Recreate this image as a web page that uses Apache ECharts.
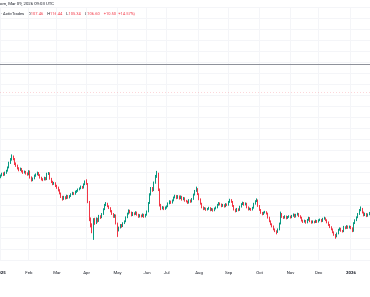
<!DOCTYPE html>
<html><head><meta charset="utf-8">
<script src="https://cdn.jsdelivr.net/npm/echarts@6/dist/echarts.min.js"></script>
<style>html,body{margin:0;padding:0;background:#fff}#c{width:370px;height:297px}</style>
</head><body><div id="c"></div>
<script>
// Daily candles, [open, close, low, high] (first bar ~Jan 2 2025)
const ohlc = [
[73.6,74.0,73.3,74.3],[74.0,74.5,73.8,74.8],[74.5,74.2,73.9,74.9],[74.2,74.8,74.0,75.1],[74.8,75.3,74.5,75.6],
[75.3,76.2,75.1,76.5],[76.2,77.5,76.0,77.8],[77.5,78.4,77.2,78.8],[78.4,79.2,78.1,79.8],[79.2,78.6,78.2,79.5],
[78.6,77.2,76.9,78.8],[77.2,76.8,76.4,77.6],[76.8,76.0,75.7,77.0],[76.0,75.6,75.2,76.3],[75.6,75.9,75.3,76.2],
[75.9,75.2,74.9,76.1],[75.2,74.8,74.5,75.5],[74.8,75.1,74.6,75.4],[75.1,74.6,74.3,75.3],[74.6,74.3,74.0,74.9],
[74.3,75.2,74.1,75.5],[75.2,73.5,73.2,75.4],[73.5,72.8,72.4,73.8],[72.8,73.2,72.5,73.5],[73.2,74.0,73.0,74.3],
[74.0,74.3,73.7,74.6],[74.3,74.8,74.1,75.1],[74.8,74.2,73.9,75.0],[74.2,73.5,73.2,74.4],[73.5,73.0,72.7,73.7],
[73.0,72.9,72.5,73.3],[72.9,73.4,72.7,73.7],[73.4,73.0,72.7,73.6],[73.0,74.5,72.8,74.8],[74.5,74.7,74.2,75.0],
[74.7,73.2,72.9,74.9],[73.2,72.3,72.0,73.4],[72.3,71.8,71.4,72.6],[71.8,72.0,71.5,72.3],[72.0,71.2,70.9,72.2],
[71.2,70.8,70.4,71.5],[70.8,70.0,69.7,71.0],[70.0,69.2,68.9,70.3],[69.2,68.3,67.9,69.4],[68.3,67.6,67.2,68.5],
[67.6,68.2,67.4,68.5],[68.2,67.8,67.5,68.4],[67.8,68.5,67.6,68.8],[68.5,68.0,67.7,68.7],[68.0,68.4,67.8,68.7],
[68.4,68.9,68.2,69.2],[68.9,69.3,68.7,69.6],[69.3,69.0,68.7,69.5],[69.0,69.6,68.8,69.9],[69.6,69.8,69.3,70.1],
[69.8,70.2,69.6,70.5],[70.2,70.5,70.0,70.8],[70.5,71.0,70.3,71.3],[71.0,70.7,70.4,71.2],[70.7,71.6,70.5,71.9],
[71.6,72.4,71.4,72.7],[72.4,71.8,71.5,73.0],[71.8,66.8,66.5,72.0],[66.8,62.0,61.6,67.1],[62.0,60.5,59.9,62.6],
[60.5,58.8,58.3,61.0],[58.8,62.0,56.5,62.4],[62.0,61.0,60.6,62.5],[61.0,62.2,60.8,62.6],[62.2,61.6,61.2,62.5],
[61.6,63.0,61.4,63.3],[63.0,62.6,62.2,63.2],[62.6,63.5,62.4,63.8],[63.5,64.8,63.3,65.1],[64.8,66.0,64.6,66.3],
[66.0,66.4,65.7,66.8],[66.4,65.7,65.4,66.6],[65.7,65.2,64.9,65.9],[65.2,64.3,64.0,65.4],[64.3,63.6,63.3,64.6],
[63.6,62.8,62.5,63.8],[62.8,63.2,62.5,63.5],[63.2,61.0,60.7,63.4],[61.0,59.2,57.3,61.2],[59.2,59.8,58.8,60.1],
[59.8,60.5,59.6,60.8],[60.5,60.2,59.8,60.8],[60.2,61.0,60.0,61.3],[61.0,61.5,60.8,61.8],[61.5,62.6,61.3,62.9],
[62.6,63.6,62.4,63.9],[63.6,64.5,63.4,64.8],[64.5,64.0,63.7,64.7],[64.0,63.2,62.9,64.2],[63.2,63.8,63.0,64.1],
[63.8,63.5,63.2,64.0],[63.5,64.0,63.3,64.3],[64.0,63.4,63.1,64.2],[63.4,62.8,62.5,63.6],[62.8,63.2,62.6,63.5],
[63.2,62.9,62.6,63.4],[62.9,63.4,62.7,63.7],[63.4,62.8,62.5,63.6],[62.8,63.3,62.6,63.6],[63.3,64.2,63.1,64.5],
[64.2,66.5,64.0,66.8],[66.5,68.8,66.3,69.2],[68.8,70.5,68.6,70.9],[70.5,70.0,69.6,70.9],[70.0,72.0,69.8,72.4],
[72.0,73.8,71.8,74.2],[73.8,74.5,73.4,75.3],[74.5,70.2,69.8,74.8],[70.2,66.0,65.6,70.5],[66.0,65.0,64.6,66.3],
[65.0,65.4,64.8,65.7],[65.4,64.9,64.6,65.6],[64.9,65.3,64.7,65.6],[65.3,65.6,65.0,65.9],[65.6,66.4,65.4,66.7],
[66.4,67.0,66.2,67.3],[67.0,66.6,66.3,67.2],[66.6,67.2,66.4,67.5],[67.2,68.0,67.0,68.3],[68.0,68.5,67.8,68.8],
[68.5,67.9,67.6,68.7],[67.9,68.4,67.7,68.7],[68.4,67.8,67.5,68.6],[67.8,68.3,67.6,68.6],[68.3,67.5,67.2,68.5],
[67.5,67.9,67.3,68.2],[67.9,67.2,66.9,68.1],[67.2,67.0,66.7,67.4],[67.0,66.6,66.3,67.2],[66.6,67.3,66.4,67.6],
[67.3,66.9,66.6,67.5],[66.9,67.6,66.7,67.9],[67.6,68.8,67.4,69.1],[68.8,69.8,68.6,70.1],[69.8,70.4,69.6,71.0],
[70.4,69.0,68.7,70.6],[69.0,67.6,67.3,69.2],[67.6,66.4,66.1,67.8],[66.4,65.4,65.1,66.6],[65.4,64.9,64.6,65.6],
[64.9,65.1,64.7,65.4],[65.1,64.7,64.4,65.3],[64.7,64.9,64.5,65.2],[64.9,65.2,64.7,65.5],[65.2,64.6,64.3,65.4],
[64.6,64.9,64.4,65.2],[64.9,64.5,64.2,65.1],[64.5,65.0,64.3,65.3],[65.0,65.3,64.8,65.6],[65.3,66.0,65.1,66.3],
[66.0,66.5,65.8,66.8],[66.5,66.2,65.9,66.7],[66.2,65.7,65.4,66.4],[65.7,66.0,65.5,66.3],[66.0,65.6,65.3,66.2],
[65.6,66.2,65.4,66.5],[66.2,66.0,65.7,66.4],[66.0,66.8,65.8,67.1],[66.8,67.4,66.6,67.7],[67.4,66.9,66.6,67.6],
[66.9,65.8,65.5,67.1],[65.8,64.8,64.5,66.0],[64.8,64.3,64.0,65.0],[64.3,64.9,64.1,65.2],[64.9,64.6,64.3,65.1],
[64.6,65.5,64.4,65.8],[65.5,66.2,65.3,66.5],[66.2,66.6,66.0,66.9],[66.6,66.1,65.8,66.8],[66.1,66.4,65.9,66.7],
[66.4,65.4,65.1,66.6],[65.4,64.8,64.5,65.6],[64.8,65.0,64.6,65.3],[65.0,64.7,64.4,65.2],[64.7,65.2,64.5,65.5],
[65.2,66.3,65.0,66.6],[66.3,67.0,66.1,67.3],[67.0,67.3,66.8,67.8],[67.3,65.8,65.5,67.5],[65.8,64.7,64.4,66.0],
[64.7,63.9,63.6,64.9],[63.9,63.5,63.2,64.1],[63.5,63.9,63.3,64.2],[63.9,64.1,63.7,64.4],[64.1,63.7,63.4,64.3],
[63.7,62.6,62.3,63.9],[62.6,61.6,61.3,62.8],[61.6,60.8,60.5,61.8],[60.8,60.2,59.9,61.0],[60.2,59.4,59.1,60.4],
[59.4,58.9,58.6,59.6],[58.9,58.6,58.0,59.1],[58.6,59.3,58.4,59.6],[59.3,60.9,59.1,61.2],[60.9,63.5,60.7,64.2],
[63.5,62.8,62.5,63.8],[62.8,62.5,62.2,63.0],[62.5,62.9,62.3,63.2],[62.9,62.4,62.1,63.1],[62.4,62.7,62.2,63.0],
[62.7,62.9,62.5,63.2],[62.9,62.6,62.3,63.1],[62.6,63.0,62.4,63.3],[63.0,63.4,62.8,63.7],[63.4,62.8,62.5,63.6],
[62.8,63.3,62.6,63.6],[63.3,63.6,63.1,63.9],[63.6,63.0,62.7,63.8],[63.0,62.6,62.3,63.2],[62.6,61.8,61.5,62.8],
[61.8,61.4,61.1,62.0],[61.4,61.7,61.2,62.0],[61.7,61.2,60.9,61.9],[61.2,61.9,61.0,62.2],[61.9,62.5,61.7,62.8],
[62.5,61.6,61.3,62.7],[61.6,61.2,60.9,61.8],[61.2,61.5,61.0,61.8],[61.5,61.3,61.0,61.7],[61.3,61.7,61.1,62.0],
[61.7,61.4,61.1,61.9],[61.4,61.8,61.2,62.1],[61.8,62.0,61.6,62.3],[62.0,61.6,61.3,62.2],[61.6,62.2,61.4,62.5],
[62.2,62.4,62.0,62.8],[62.4,61.9,61.6,62.6],[61.9,61.3,61.0,62.1],[61.3,60.6,60.3,61.5],[60.6,60.0,59.7,60.8],
[60.0,59.4,59.1,60.2],[59.4,58.6,58.3,59.6],[58.6,57.9,57.6,58.8],[57.9,57.4,56.8,58.1],[57.4,58.2,57.2,58.5],
[58.2,59.2,58.0,59.5],[59.2,59.6,59.0,59.9],[59.6,59.0,58.7,59.8],[59.0,58.8,58.5,59.2],[58.8,60.0,58.6,60.3],
[60.0,59.7,59.4,60.2],[59.7,60.2,59.5,60.5],[60.2,59.8,59.5,60.4],[59.8,60.1,59.6,60.4],[60.1,59.7,59.4,60.3],
[59.7,58.9,58.6,59.9],[58.9,61.0,58.7,61.3],[61.0,61.8,60.8,62.1],[61.8,62.6,61.6,62.9],[62.6,63.5,62.4,63.8],
[63.5,64.6,63.3,64.9],[64.6,65.0,64.3,65.6],[65.0,64.0,63.7,65.2],[64.0,63.2,62.9,64.2],[63.2,63.6,63.0,63.9],
[63.6,63.0,62.7,63.8],[63.0,63.4,62.8,63.7],[63.4,63.8,63.2,64.1]
];
const days = ohlc.map((_, i) => i);              // trading-day index categories
const tickIdx    = [0, 20, 40, 61, 83, 104, 118, 141, 162, 184, 206, 226, 249];
const tickLabels = ['2025','Feb','Mar','Apr','May','Jun','Jul','Aug','Sep','Oct','Nov','Dec','2026'];
const drawnLevel = [104.45];   // grey horizontal drawn line
const priceLevel = [96.8];     // faint red dotted price line
const headerDate = 'om, Mar 09, 2026 09:03 UTC';
const legendName = 'ActivTrades';
const legendVals = [['O','107.46'],['H','116.44'],['L','105.34'],['C','106.60']];
const legendChg  = '+10.50 (+14.57%)';

const up = '#089981', down = '#f23645';
const chart = echarts.init(document.getElementById('c'), null, {renderer: 'canvas'});
const tickSet = new Set(tickIdx);
const F = 'Roboto, "Noto Sans", sans-serif';
const FS = 4;

let legendText = '{d|· ' + legendName + '}';
legendVals.forEach(v => { legendText += '{s| }{d|' + v[0] + '}{r|' + v[1] + '}'; });
legendText += '{s| }{r|' + legendChg + '}';

chart.setOption({
  animation: false,
  backgroundColor: '#ffffff',
  grid: {left: 0, right: 0, top: 7, bottom: 37, outerBoundsMode: 'none', containLabel: false},
  xAxis: {
    type: 'category', data: days, boundaryGap: true,
    axisLine: {show: false}, axisTick: {show: false},
    axisLabel: {
      interval: (i) => tickSet.has(i), margin: 11, hideOverlap: false,
      alignMinLabel: 'center', alignMaxLabel: 'center',
      fontSize: 4.3, fontFamily: F, color: '#131722',
      formatter: (v) => {
        const k = tickIdx.indexOf(Number(v));
        const t = k >= 0 ? tickLabels[k] : '';
        return /^\d{4}$/.test(t) ? '{y|' + t + '}' : t;
      },
      rich: {y: {fontWeight: 'bold', fontSize: 4.3, fontFamily: F, color: '#131722'}}
    },
    splitLine: {show: true, interval: (i) => tickSet.has(i), lineStyle: {color: '#f4f5f8', width: 1}}
  },
  yAxis: {
    type: 'value', min: 51, max: 120, interval: 3, position: 'right',
    axisLabel: {show: false}, axisLine: {show: false}, axisTick: {show: false},
    splitLine: {show: true, lineStyle: {color: '#f4f5f8', width: 1}}
  },
  graphic: [
    {type:'text', x: 0, y: 2, style:{text: headerDate, fontSize: 4.3, fontFamily: F, fill:'#131722'}},
    {type:'text', x: 1, y: 12, style:{text: legendText, fontSize: FS, fontFamily: F,
      rich: {
        d: {fill: '#131722', fontSize: FS, fontFamily: F},
        r: {fill: down, fontSize: FS, fontFamily: F},
        s: {fontSize: FS, fontFamily: F, width: 4}
      }}}
  ],
  series: [{
    type: 'candlestick', data: ohlc, barWidth: 1,
    itemStyle: {color: up, color0: down, borderColor: up, borderColor0: down, borderWidth: 1},
    markLine: {
      silent: true, symbol: 'none', label: {show: false},
      data: [
        {yAxis: drawnLevel[0], lineStyle: {color: '#8f929b', width: 1, type: 'solid'}},
        {yAxis: priceLevel[0], lineStyle: {color: 'rgba(242,54,69,0.2)', width: 1, type: [1, 2]}}
      ]
    }
  }]
});
</script></body></html>
